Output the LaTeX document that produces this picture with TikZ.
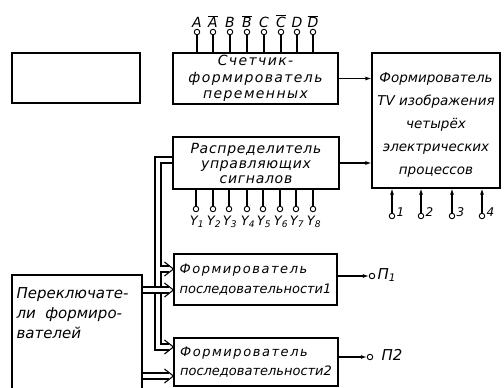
\documentclass[tikz,border=0pt]{standalone}
\usepackage{fontspec}
\setmainfont{DejaVu Sans}
\usetikzlibrary{arrows.meta,calc}
\newcommand\ob[1]{$\overline{\mbox{#1}}$}
% hollow bus arrow from coordinate #1 to tip coordinate #2 (horizontal)
\newcommand\busto[2]{%
  \fill[white] ($(#1)+(1.2,-2.3)$) rectangle ($(#2)+(-5,2.3)$);
  \draw ($(#1)+(0,-3)$) -- ($(#2)+(-4,-3)$);
  \draw ($(#1)+(0,3)$) -- ($(#2)+(-4,3)$);
  \draw[line join=miter] ($(#2)+(-9,-7)$) -- (#2) -- ($(#2)+(-9,7)$);}
\begin{document}
\begin{tikzpicture}[x=1pt,y=-1pt,line width=1.1pt,
  blk/.style={draw, rectangle, inner sep=0pt, align=center},
  txt/.style={inner sep=0pt, align=left, font=\itshape\fontsize{15}{20}\selectfont},
  pin/.style={circle, draw, line width=0.9pt, inner sep=0pt, minimum size=5.5pt, fill=white},
  lbl/.style={inner sep=0pt, font=\itshape\fontsize{14}{14}\selectfont},
  sig/.style={-{Latex[length=6pt,width=4pt]}}]
\useasboundingbox (0,0) rectangle (504,388);

% boxes
\node[blk, minimum width=128pt, minimum height=50pt] (empty) at (76,78) {};
\node[blk, minimum width=165pt, minimum height=51pt,
  font=\itshape\fontsize{14}{16.5}\selectfont\addfontfeature{LetterSpace=10}] (cnt) at (255.5,78.5)
  {Счетчик-\\формирователь\\переменных};
\node[blk, minimum width=128pt, minimum height=135pt,
  font=\itshape\fontsize{13.5}{23}\selectfont] (tv) at (436,120.5)
  {\rule{0pt}{18pt}Формирователь\\TV изображения\\четырёх\\электрических\\процессов};
\node[blk, minimum width=166pt, minimum height=52pt,
  font=\itshape\fontsize{14}{15}\selectfont\addfontfeature{LetterSpace=5}] (dist) at (256,163)
  {Распределитель\\управляющих\\сигналов};
\node[blk, minimum width=163pt, minimum height=51pt, align=left,
  font=\itshape\fontsize{13}{20}\selectfont] (f1) at (255.5,279.5)
  {{\addfontfeature{LetterSpace=12}Формирователь}\\последовательности1};
\node[blk, minimum width=164pt, minimum height=48pt, align=left,
  font=\itshape\fontsize{13}{19}\selectfont] (f2) at (256,362)
  {{\addfontfeature{LetterSpace=12}Формирователь}\\последовательности2};
\node[blk, minimum width=130pt, minimum height=114pt] (sw) at (77,332) {};
\node[txt, anchor=west] (swt) at (16,313) {Переключате-\\ли\ \ формиро-\\вателей};

% inputs of the counter
\foreach \n/\x/\t in {a/197/A, ab/213/\ob{A}, b/230/B, bb/247/\ob{B}, c/264/C, cb/281/\ob{C}, d/297/D, db/313/\ob{D}} {
  \node[pin] (i\n) at (\x,32) {};
  \node[lbl, anchor=south] (l\n) at (\x,28) {\t};
  \draw (i\n.south) -- (i\n |- cnt.north);
}

% outputs of the distributor
\foreach \i/\x in {1/196,2/213,3/229,4/247,5/263,6/280,7/296,8/313} {
  \node[pin] (y\i) at (\x,209) {};
  \node[lbl, anchor=north, font=\itshape\fontsize{13}{13}\selectfont] (yl\i) at (\x+1,215) {Y\textsubscript{\i}};
  \draw (y\i.north) -- (y\i |- dist.south);
}

% inputs 1-4 of the TV former
\foreach \i/\x in {1/392,2/421,3/452,4/482} {
  \node[pin] (o\i) at (\x,216) {};
  \node[lbl, anchor=west, font=\itshape\fontsize{12}{12}\selectfont] (ol\i) at (\x+4,212) {\i};
  \draw[sig] (o\i.north) -- (o\i |- tv.south);
}

% signal arrows
\draw[sig] (cnt.east) -- (tv.west |- cnt.east);
\draw[sig] (dist.east) -- (tv.west |- dist.east);

\node[pin] (p1) at (372,276) {};
\node[lbl, anchor=west, font=\itshape\fontsize{15}{15}\selectfont] (p1l) at (377,275) {П\textsubscript{1}};
\draw[sig] (f1.east |- p1) -- (p1.west);
\node[pin] (p2) at (370,357) {};
\node[lbl, anchor=west, font=\itshape\fontsize{15}{15}\selectfont] (p2l) at (381,355) {П2};
\draw[sig] (f2.east |- p2) -- (p2.west);

% bus from the distributor down to both sequence formers
\coordinate (h0) at (0,160);
\coordinate (h1) at (0,269);
\coordinate (h2) at (0,347);
\coordinate (h3) at (0,290);
\coordinate (h4) at (0,376);
\coordinate (t1) at (f1.west |- h1);
\coordinate (t2) at (f2.west |- h2);
\coordinate (t3) at (f1.west |- h3);
\coordinate (t4) at (f2.west |- h4);
\coordinate (c0) at (dist.west |- h0);
\coordinate (vo) at (155,0);
\coordinate (vi) at (161,0);
\draw[line join=miter] ($(c0)+(0,-3)$) -- ($(vo |- c0)+(0,-3)$) -- ($(vo |- t2)+(0,3)$) -- ($(t2)+(-4,3)$);
\draw[line join=miter] ($(c0)+(0,3)$) -- ($(vi |- c0)+(0,3)$) -- ($(vi |- t1)+(0,-3)$) -- ($(t1)+(-4,-3)$);
\draw[line join=miter] ($(t1)+(-4,3)$) -- ($(vi |- t1)+(0,3)$) -- ($(vi |- t2)+(0,-3)$) -- ($(t2)+(-4,-3)$);
\draw[line join=miter] ($(t1)+(-9,-7)$) -- (t1) -- ($(t1)+(-9,7)$);
\draw[line join=miter] ($(t2)+(-9,-7)$) -- (t2) -- ($(t2)+(-9,7)$);

% buses from the switches
\coordinate (s3) at (sw.east |- h3);
\coordinate (s4) at (sw.east |- h4);
\busto{s3}{t3}
\busto{s4}{t4}
\end{tikzpicture}
\end{document}
